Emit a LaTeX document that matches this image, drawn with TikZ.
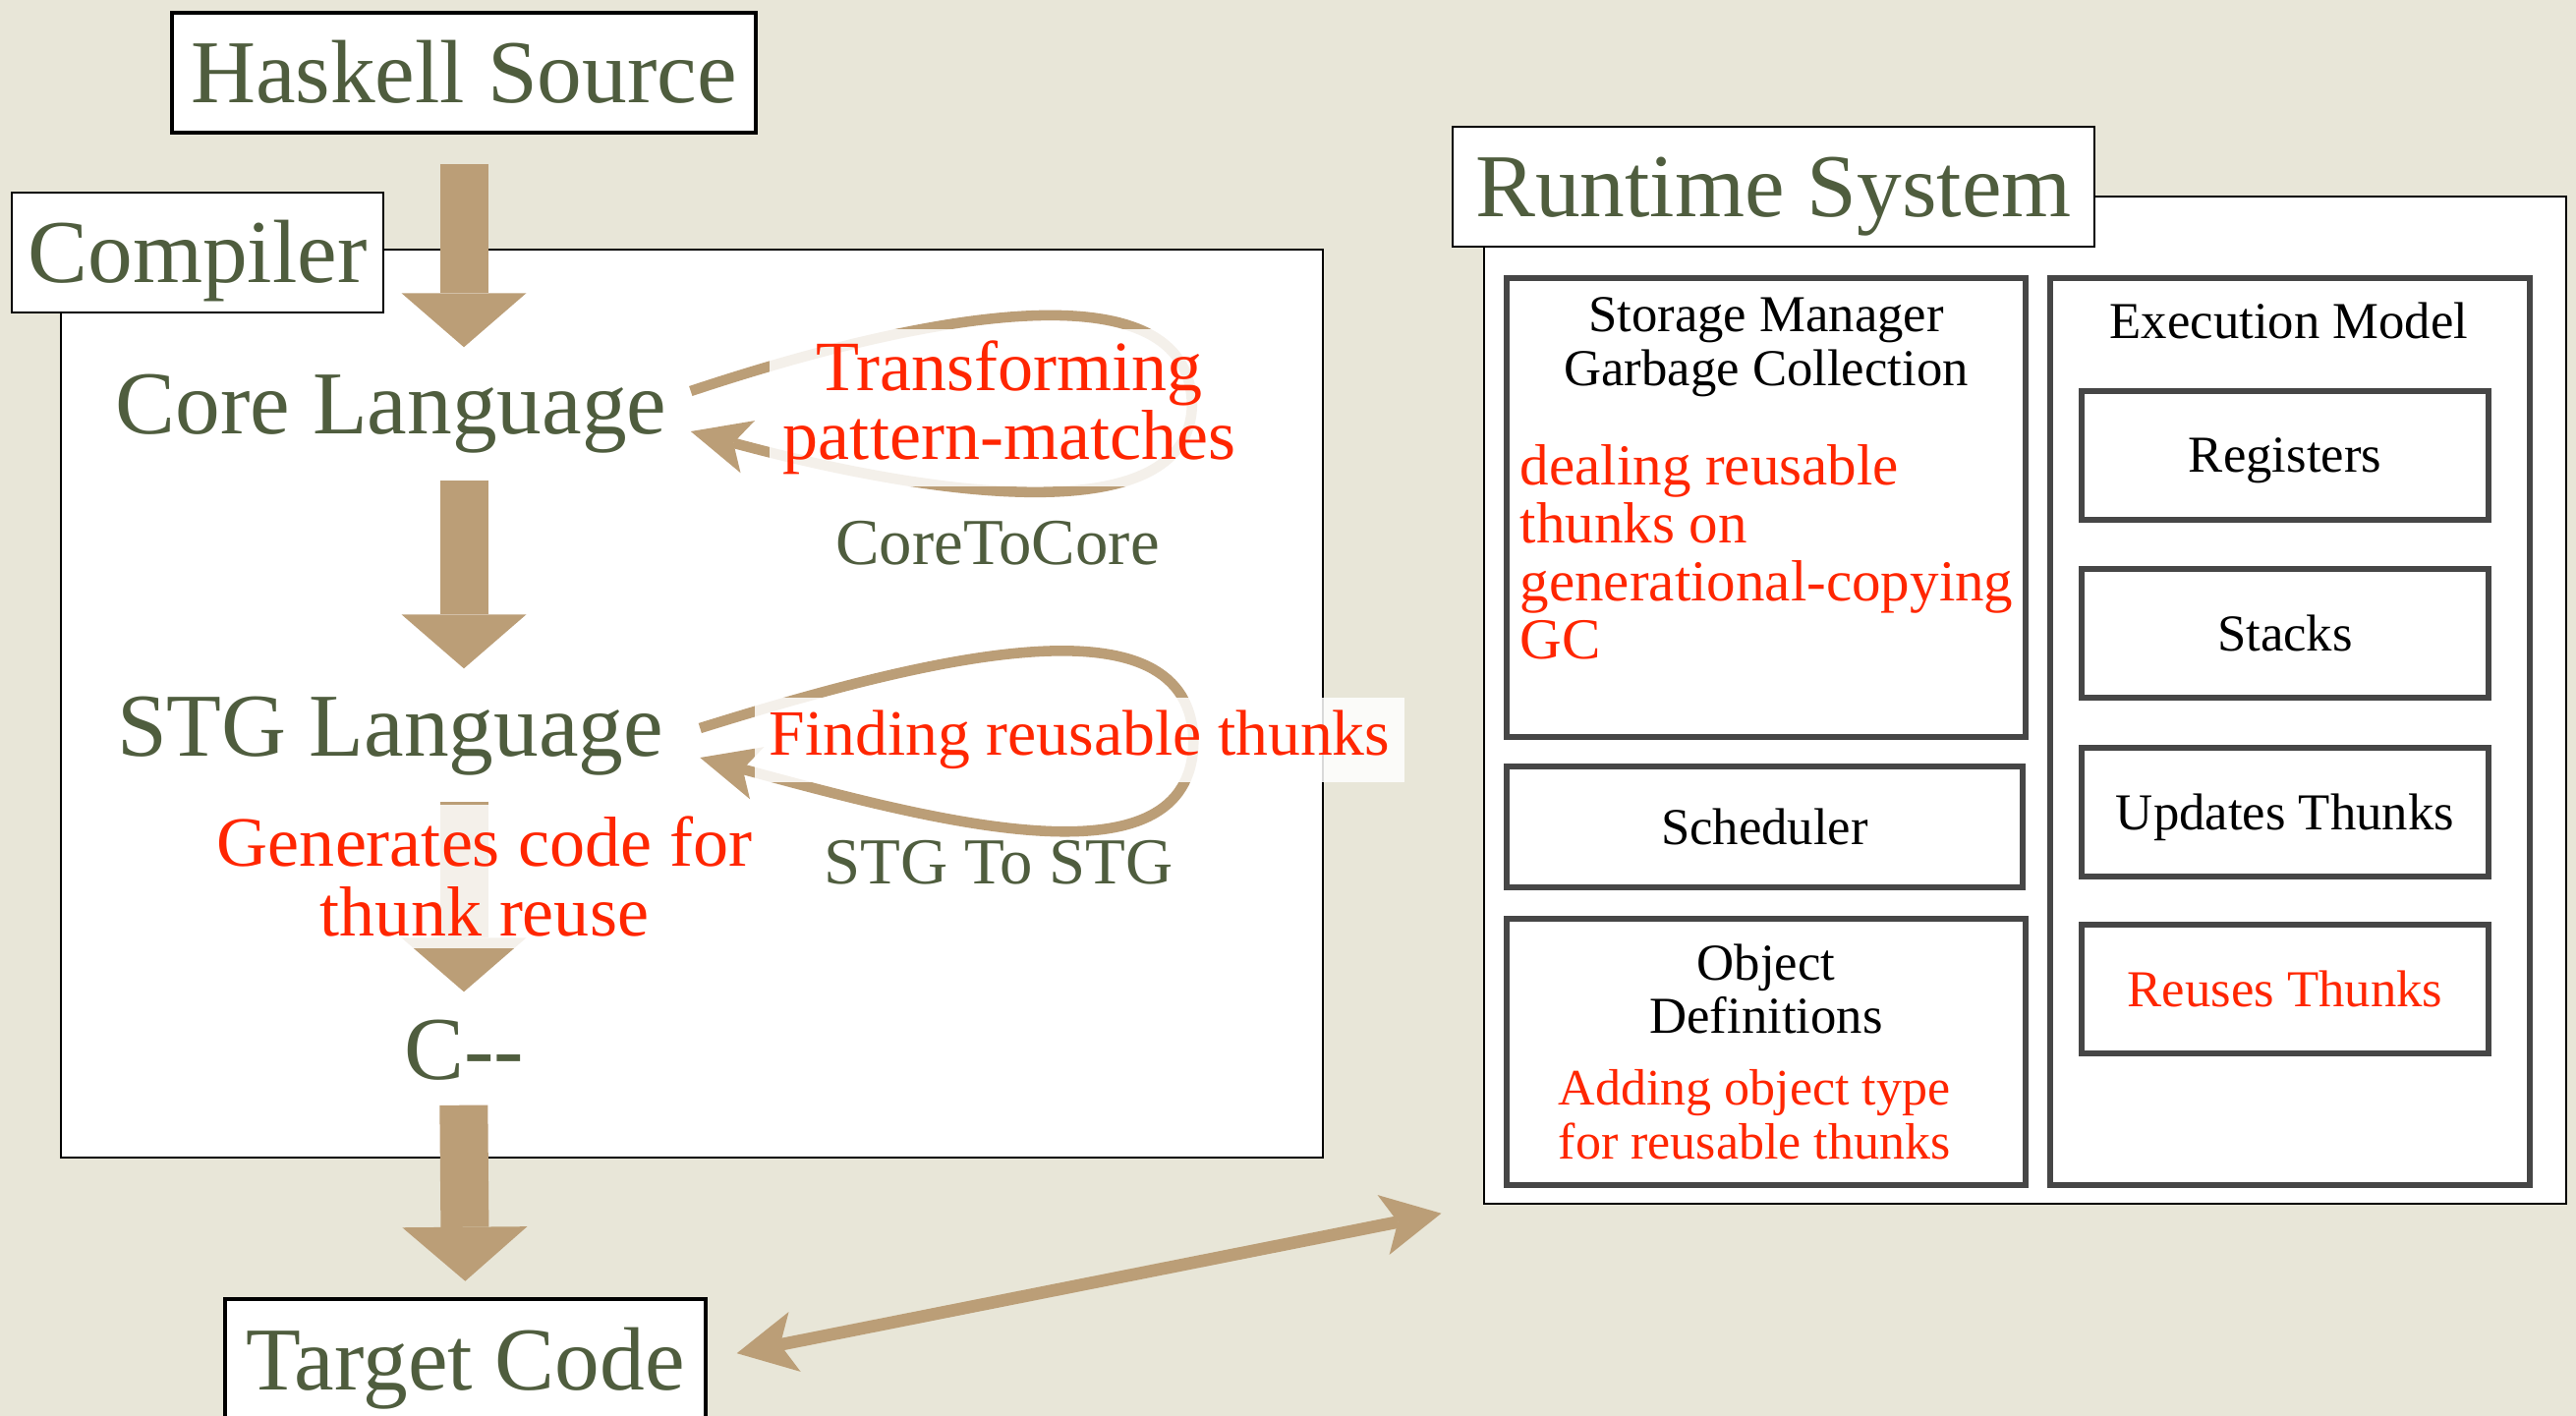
\documentclass[tikz,border=0pt]{standalone}
\usepackage{fontspec}
\setmainfont{Liberation Serif}
\usepackage{xcolor}
\usetikzlibrary{arrows.meta, positioning}

\definecolor{paper}{RGB}{232,230,216}
\definecolor{hsgreen}{RGB}{79,93,62}
\definecolor{hsred}{RGB}{255,38,0}
\definecolor{arrowtan}{RGB}{187,158,119}
\definecolor{boxgray}{RGB}{70,70,70}

\begin{document}
\begin{tikzpicture}[
  bigtxt/.style={text=hsgreen, font=\fontsize{26}{28}\selectfont,
                 inner ysep=0.26cm, text height=0.62cm, text depth=0.2cm},
  titlebox/.style={draw, fill=white, line width=0.8pt, text=hsgreen,
                   font=\fontsize{26}{28}\selectfont, text height=0.62cm,
                   text depth=0pt, minimum height=1.22cm, inner sep=0pt},
  bigframe/.style={draw, fill=white, line width=0.8pt, inner sep=0pt},
  rtbox/.style={draw=boxgray, fill=white, line width=1.6pt, inner sep=0pt,
                font=\fontsize{15}{15.6}\selectfont, text height=0.35cm,
                text depth=0pt},
  rttxt/.style={font=\fontsize{15}{15.6}\selectfont, align=center},
  rtred/.style={text=hsred, font=\fontsize{16.8}{16.8}\selectfont,
                align=left, inner sep=0pt},
  redlbl/.style={text=hsred, font=\fontsize{20.5}{20}\selectfont,
                 align=center, fill=white, fill opacity=0.85, text opacity=1},
  subtxt/.style={text=hsgreen, font=\fontsize{19}{21}\selectfont},
  bigarr/.style={draw=arrowtan, line width=4.9mm,
                 -{Triangle[width=12.7mm, length=5.5mm, line width=0pt]}},
  looparr/.style={draw=arrowtan, line width=3pt,
                  -{Stealth[length=6mm, width=5.5mm, inset=1.5mm, line width=0pt]}},
  dblarr/.style={draw=arrowtan, line width=3.6pt,
                 {Stealth[length=6mm, width=6.2mm, inset=1.5mm, line width=0pt]}-{Stealth[length=6mm, width=6.2mm, inset=1.5mm, line width=0pt]}},
]
\useasboundingbox (0,0) rectangle (26.21,-14.41);
\fill[paper] (0,0) rectangle (26.21,-14.41);

% --- Compiler side ---
\node[bigframe, minimum width=12.84cm, minimum height=9.24cm]
  (cbox) at (7.04,-7.16) {};
\node[titlebox, minimum width=3.78cm] (clbl) at (2.01,-2.57) {Compiler};
\node[titlebox, line width=1.3pt, minimum width=5.94cm]
  (hs) at (4.72,-0.74) {Haskell Source};

\node[bigtxt, anchor=base] (core) at (3.98,-4.42) {Core Language};
\node[bigtxt, anchor=base] (stg)  at (3.97,-7.69) {STG Language};
\node[bigtxt, anchor=base] (cmm)  at (4.72,-10.98) {C-{}-};

\node[titlebox, line width=1.3pt, minimum width=4.89cm]
  (tc) at (4.735,-13.83) {Target Code};

% --- Pipeline arrows ---
\draw[bigarr, shorten <=0.3cm] (hs.south) -- (hs.south |- core.north);
\draw[bigarr] (core.south -| hs.south) -- (stg.north -| hs.south);
\draw[bigarr] (stg.south -| hs.south) -- (cmm.north);
\draw[bigarr, shorten <=-0.2cm, shorten >=0.16cm] (cmm.south) -- (tc.north);

\node[redlbl, minimum height=1.33cm] (gen) at (4.93,-8.92)
  {Generates code for\\thunk reuse};

% --- Loops ---
\draw[looparr] ([xshift=0.12cm, yshift=0.23cm]core.east)
  .. controls +(2.4,0.8) and +(-0.02,1.43) .. ++(5.10,-0.14)
  .. controls +(-0.02,-1.32) and +(2.4,-0.65) .. ([xshift=0.12cm, yshift=-0.18cm]core.east);
\node[redlbl, minimum width=4.88cm, minimum height=1.6cm]
  (tpm) at (10.27,-4.15) {Transforming\\pattern-matches};
\node[subtxt] (c2c) at (10.15,-5.53) {CoreToCore};

\draw[looparr] ([xshift=0.25cm, yshift=0.07cm]stg.east)
  .. controls +(2.4,0.75) and +(-0.02,1.51) .. ++(5.02,-0.14)
  .. controls +(-0.02,-1.51) and +(2.4,-0.65) .. ([xshift=0.25cm, yshift=-0.23cm]stg.east);
\node[redlbl, font=\fontsize{18.7}{20}\selectfont, minimum width=6.61cm,
      minimum height=0.86cm, inner sep=0pt]
  (frt) at (10.985,-7.53) {Finding reusable thunks};
\node[subtxt] (s2s) at (10.16,-8.78) {STG To STG};

% --- Runtime side ---
\node[bigframe, minimum width=11.01cm, minimum height=10.25cm]
  (rbox) at (20.605,-7.125) {};
\node[titlebox, minimum width=6.53cm] (rlbl) at (18.045,-1.90) {Runtime System};

\node[rtbox, minimum width=5.28cm, minimum height=4.67cm] (store) at (17.97,-5.165) {};
\node[rtbox, minimum width=5.25cm, minimum height=1.23cm] (sched) at (17.955,-8.415) {Scheduler};
\node[rtbox, minimum width=5.28cm, minimum height=2.71cm] (objdef) at (17.97,-10.705) {};
\node[rtbox, minimum width=4.88cm, minimum height=9.23cm] (exec) at (23.30,-7.445) {};

\node[rtbox, minimum width=4.14cm, minimum height=1.31cm] (regs)   at (23.25,-4.635) {Registers};
\node[rtbox, minimum width=4.14cm, minimum height=1.31cm] (stacks) at (23.25,-6.445) {Stacks};
\node[rtbox, minimum width=4.14cm, minimum height=1.31cm] (upd)    at (23.25,-8.265) {Updates Thunks};
\node[rtbox, minimum width=4.14cm, minimum height=1.31cm, text=hsred]
  (reuse) at (23.25,-10.065) {Reuses Thunks};

\node[rttxt] (storettl) at (17.97,-3.535) {Storage Manager\\Garbage Collection};
\node[rtred, anchor=west] (dealtxt) at (15.46,-5.615)
  {dealing reusable\\thunks on\\generational-copying\\GC};
\node[rttxt] (exttl) at (23.29,-3.26) {Execution Model};
\node[rttxt] (objttl) at (17.97,-10.065) {Object\\Definitions};
\node[rtred, font=\fontsize{14.8}{15.6}\selectfont, anchor=west]
  (addtxt) at (15.85,-11.345) {Adding object type\\for reusable thunks};

% --- Target code <-> runtime ---
\draw[dblarr, shorten <=0.3cm, shorten >=0.43cm] (tc.east) -- (rbox.south west);
\end{tikzpicture}
\end{document}
